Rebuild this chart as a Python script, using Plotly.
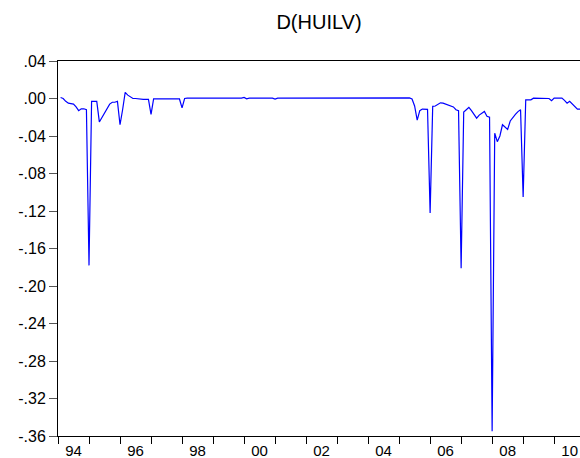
import pandas as pd
import plotly.graph_objects as go

# Monthly first difference of HUILV, 1994M02 .. 2010M11
start_month = "1994-02"
dhuilv = [
    # 1994 M02-M12
    0.001, 0.000, -0.003, -0.005, -0.0055, -0.006, -0.009, -0.013, -0.011, -0.011, -0.012,
    # 1995
    -0.178, -0.003, -0.003, -0.003, -0.025, -0.020, -0.015, -0.011, -0.006, -0.004, -0.004, -0.003,
    # 1996
    -0.028, -0.012, 0.0065, 0.0036, 0.0018, 0.000, 0.000, -0.0005, -0.001, -0.001, -0.001, -0.001,
    # 1997
    -0.017, -0.0005, -0.0005, -0.0005, -0.0005, -0.0005, -0.0005, -0.0005, -0.0005, -0.0005, -0.0005, -0.0005,
    # 1998
    -0.010, 0.000, 0.0003, 0.0003, 0.0003, 0.0003, 0.0003, 0.0003, 0.0003, 0.0003, 0.0003, 0.0003,
    # 1999
    0.000, 0.0003, 0.0003, 0.0003, 0.0003, 0.0003, 0.0003, 0.0003, 0.0003, 0.0004, 0.0004, 0.0004,
    # 2000
    0.0012, -0.0004, 0.0004, 0.0004, 0.0004, 0.0004, 0.0004, 0.0004, 0.0004, 0.0004, 0.0004, 0.0004,
    # 2001
    -0.0006, 0.0004, 0.0004, 0.0004, 0.0004, 0.0004, 0.0004, 0.0004, 0.0004, 0.0004, 0.0004, 0.0004,
    # 2002
    0.0005, 0.0005, 0.0005, 0.0005, 0.0005, 0.0005, 0.0005, 0.0005, 0.0005, 0.0005, 0.0005, 0.0005,
    # 2003
    0.0005, 0.0006, 0.0006, 0.0006, 0.0006, 0.0006, 0.0006, 0.0006, 0.0006, 0.0006, 0.0006, 0.0006,
    # 2004
    0.0006, 0.0006, 0.0006, 0.0006, 0.0006, 0.0006, 0.0006, 0.0006, 0.0006, 0.0006, 0.0006, 0.0006,
    # 2005
    0.0006, 0.0006, 0.0006, 0.0006, 0.0006, -0.0005, -0.008, -0.023, -0.013, -0.0113, -0.0113, -0.0115,
    # 2006
    -0.122, -0.0084, -0.008, -0.006, -0.0046, -0.005, -0.006, -0.007, -0.008, -0.009, -0.012, -0.013,
    # 2007
    -0.181, -0.0145, -0.012, -0.0095, -0.013, -0.0174, -0.021, -0.0177, -0.0156, -0.0138, -0.019, -0.020,
    # 2008
    -0.355, -0.037, -0.046, -0.040, -0.028, -0.031, -0.033, -0.024, -0.020, -0.017, -0.014, -0.012,
    # 2009
    -0.105, -0.0014, -0.0014, -0.0014, 0.0004, 0.0004, 0.0004, 0.0004, 0.0004, 0.0004, 0.0000, -0.0024,
    # 2010 M01-M11
    0.0004, 0.0004, 0.0004, 0.0004, -0.002, -0.005, -0.003, -0.006, -0.0085, -0.0113, -0.0113,
]

year_labels = ["94", "96", "98", "00", "02", "04", "06", "08", "10"]
label_years = [1994, 1996, 1998, 2000, 2002, 2004, 2006, 2008, 2010]
y_ticks = [0.04, 0.00, -0.04, -0.08, -0.12, -0.16, -0.20, -0.24, -0.28, -0.32, -0.36]
y_labels = [".04", ".00", "-.04", "-.08", "-.12", "-.16", "-.20", "-.24", "-.28", "-.32", "-.36"]

periods = pd.period_range(start_month, periods=len(dhuilv), freq="M")
x = [p.year + (p.month - 1) / 12.0 for p in periods]
x_start = 1994.0
x_end = x[-1]

FONT = "Liberation Sans, Arial, sans-serif"

fig = go.Figure()
fig.add_trace(go.Scatter(
    x=x, y=dhuilv, mode="lines",
    line=dict(color="#0000FF", width=1.2),
    hoverinfo="skip", showlegend=False,
))

fig.update_layout(
    width=580, height=458,
    margin=dict(l=58, r=0, t=61, b=22, pad=0, autoexpand=False),
    paper_bgcolor="white", plot_bgcolor="white",
    font=dict(family=FONT, size=16, color="black"),
    title=dict(text="D(HUILV)", x=0.5, xref="paper", xanchor="center",
               y=1 - 22 / 458, yref="container", yanchor="middle",
               automargin=False,
               font=dict(family=FONT, size=20, color="black")),
)

fig.update_xaxes(
    range=[x_start, x_end], automargin=False,
    showgrid=False, zeroline=False,
    showline=True, linecolor="black", linewidth=1, mirror=True,
    tickmode="array",
    tickvals=[yy + 0.5 for yy in label_years],
    ticktext=year_labels,
    ticks="outside", ticklen=1, tickcolor="rgba(0,0,0,0)",
    tickfont=dict(family=FONT, size=15, color="black"),
    minor=dict(tickmode="array", tickvals=list(range(1994, 2011)),
               ticks="outside", ticklen=7, tickwidth=1, tickcolor="black",
               showgrid=False),
)
fig.update_yaxes(
    range=[-0.36, 0.04], automargin=False,
    showgrid=False, zeroline=False,
    showline=True, linecolor="black", linewidth=1, mirror=False,
    tickmode="array", tickvals=y_ticks, ticktext=y_labels,
    ticks="outside", ticklen=8, tickcolor="#555555",
    tickfont=dict(family=FONT, size=16, color="black"),
)

fig.write_html(
    "out.html",
    config={"displayModeBar": False},
    post_script="document.body.style.margin='0';document.body.style.padding='0';"
                "document.body.style.overflow='hidden';",
)
